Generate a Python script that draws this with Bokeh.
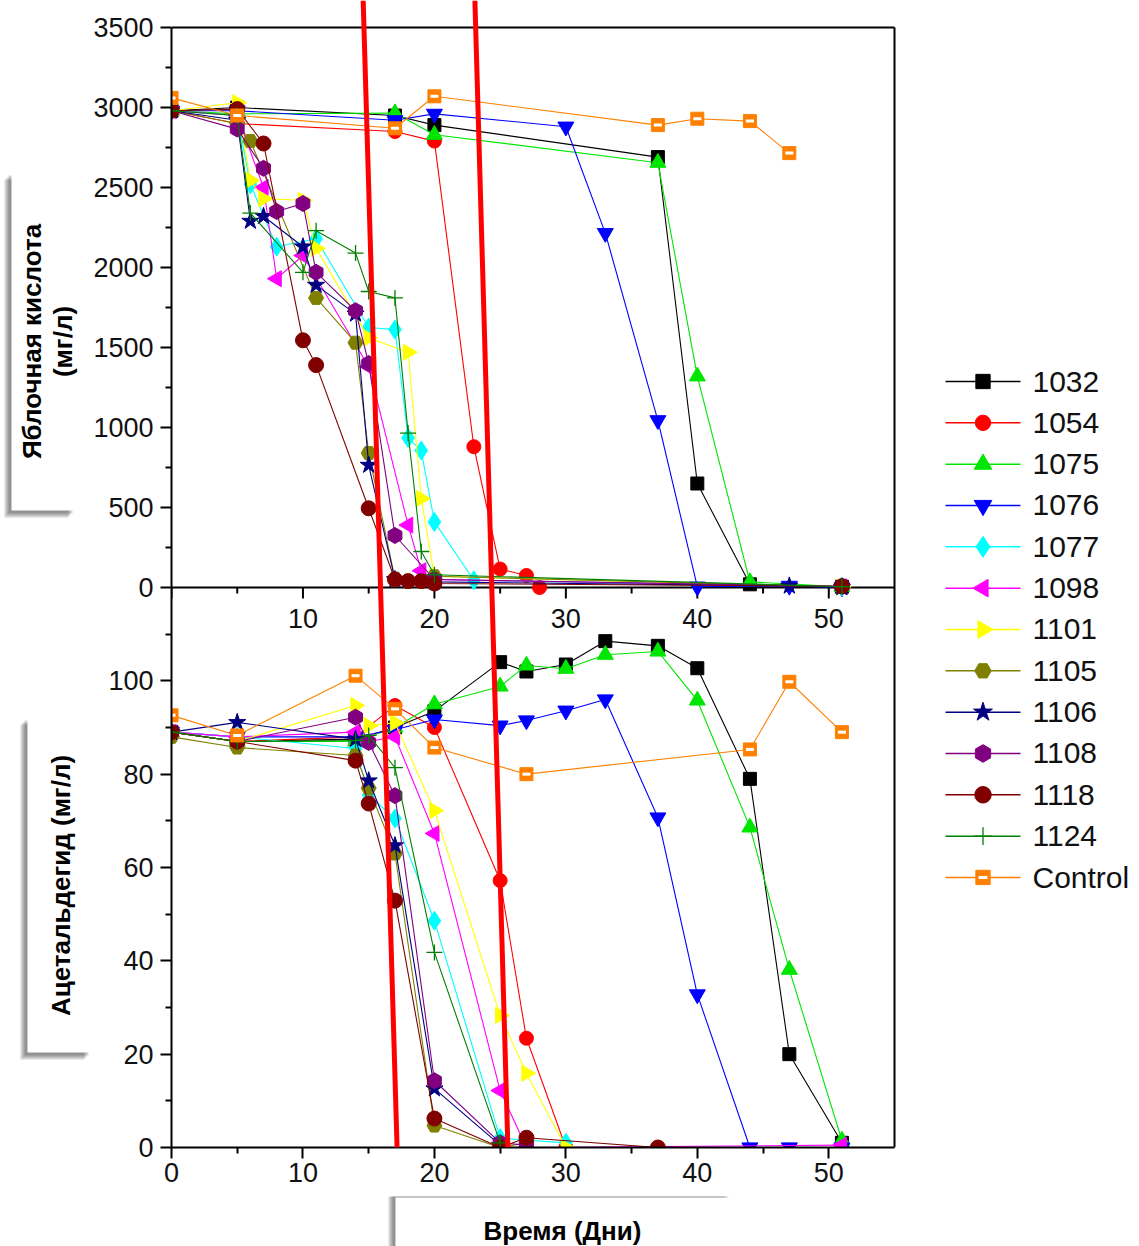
import math
from bokeh.plotting import figure
from bokeh.models import (Range1d, FixedTicker, CustomJSTickFormatter, Arrow)
from bokeh.layouts import row, column
from bokeh.core.properties import value
from bokeh.embed import file_html
from bokeh.resources import INLINE

# ---------------- data ----------------
strains = ["1032", "1054", "1075", "1076", "1077", "1098", "1101",
           "1105", "1106", "1108", "1118", "1124", "Control"]

# Malic acid, mg/L (top panel)
mal_days_1032 = [0, 5, 17, 20, 37, 40, 44, 51]
mal_vals_1032 = [2980, 3000, 2950, 2890, 2690, 650, 20, 5]
mal_days_1054 = [0, 5, 17, 20, 23, 25, 27, 28]
mal_vals_1054 = [2980, 2900, 2850, 2790, 880, 115, 75, 0]
mal_days_1075 = [0, 5, 17, 20, 37, 40, 44, 51]
mal_vals_1075 = [2980, 2960, 2965, 2830, 2655, 1320, 35, 5]
mal_days_1076 = [0, 5, 17, 20, 30, 33, 37, 40, 47, 51]
mal_vals_1076 = [2980, 2980, 2920, 2960, 2880, 2215, 1045, 5, 10, 0]
mal_days_1077 = [0, 5, 6, 8, 11, 15, 17, 18, 19, 20, 23, 51]
mal_vals_1077 = [2980, 2950, 2520, 2130, 2180, 1625, 1612, 935, 856, 410, 45, 5]
mal_days_1098 = [0, 5, 7, 8, 10, 15, 18, 19, 20, 51]
mal_vals_1098 = [2980, 2950, 2500, 1930, 2075, 1380, 390, 105, 50, 5]
mal_days_1101 = [0, 5, 6, 7, 10, 11, 15, 18, 19, 20, 51]
mal_vals_1101 = [2980, 3030, 2545, 2430, 2420, 2120, 1560, 1470, 556, 70, 5]
mal_days_1105 = [0, 5, 6, 11, 14, 15, 17, 20, 51]
mal_vals_1105 = [2980, 2900, 2790, 1810, 1530, 840, 55, 70, 5]
mal_days_1106 = [0, 5, 6, 7, 10, 11, 14, 15, 17, 20, 47, 51]
mal_vals_1106 = [2980, 2920, 2290, 2320, 2130, 1890, 1710, 765, 50, 35, 10, 0]
mal_days_1108 = [0, 5, 7, 8, 10, 11, 14, 15, 17, 20, 51]
mal_vals_1108 = [2980, 2865, 2620, 2350, 2400, 1970, 1730, 1400, 325, 50, 8]
mal_days_1118 = [0, 5, 7, 10, 11, 15, 17, 18, 19, 20, 51]
mal_vals_1118 = [2980, 2990, 2775, 1545, 1390, 495, 50, 40, 40, 25, 8]
mal_days_1124 = [0, 5, 6, 10, 11, 14, 15, 17, 18, 19, 20, 51]
mal_vals_1124 = [2980, 2950, 2340, 1970, 2230, 2090, 1850, 1810, 965, 225, 80, 5]
mal_days_ctrl = [0, 5, 17, 20, 37, 40, 44, 47]
mal_vals_ctrl = [3060, 2950, 2870, 3070, 2890, 2930, 2915, 2715]

# Acetaldehyde, mg/L (bottom panel)
ace_days_1032 = [0, 5, 14, 17, 20, 25, 27, 30, 33, 37, 40, 44, 47, 51]
ace_vals_1032 = [89, 87, 87.5, 90, 93.5, 104, 102, 103.5, 108.5, 107.5, 102.7, 79, 20, 1]
ace_days_1054 = [0, 5, 14, 17, 20, 25, 27, 30]
ace_vals_1054 = [89, 87, 88, 94.7, 90, 57.2, 23.4, 0]
ace_days_1075 = [0, 5, 14, 17, 20, 25, 27, 30, 33, 37, 40, 44, 47, 51]
ace_vals_1075 = [89, 87, 87, 90, 95, 98.8, 103.3, 102.6, 105.6, 106.3, 95.8, 68.6, 38.1, 1.5]
ace_days_1076 = [0, 5, 14, 17, 20, 25, 27, 30, 33, 37, 40, 44, 47, 51]
ace_vals_1076 = [89, 88, 88, 89.5, 91.7, 90.4, 91.5, 93.6, 96, 70.7, 32.8, 0, 0, 0]
ace_days_1077 = [0, 5, 14, 15, 17, 20, 25, 30]
ace_vals_1077 = [89, 88, 85.5, 75.5, 70.5, 48.6, 2, 1]
ace_days_1098 = [0, 5, 14, 15, 17, 20, 25, 27, 51]
ace_vals_1098 = [89, 88, 89, 87, 88, 67.3, 12.2, 0, 0.5]
ace_days_1101 = [0, 5, 14, 15, 17, 20, 25, 27, 30]
ace_vals_1101 = [89, 87, 94.7, 90.4, 91, 72.2, 28.3, 15.9, 0]
ace_days_1105 = [0, 5, 14, 15, 17, 20, 25, 27]
ace_vals_1105 = [88, 85.7, 84, 77, 63, 4.7, 0, 1]
ace_days_1106 = [0, 5, 14, 15, 17, 20, 25]
ace_vals_1106 = [89, 91.1, 87.5, 78.6, 64.7, 12.6, 0.5]
ace_days_1108 = [0, 5, 14, 15, 17, 20, 25, 27]
ace_vals_1108 = [89, 87, 92.2, 86.8, 75.4, 14.3, 1, 0.5]
ace_days_1118 = [0, 5, 14, 15, 17, 20, 25, 27, 37]
ace_vals_1118 = [89, 87, 82.9, 73.7, 52.9, 6.2, 0, 2.1, 0]
ace_days_1124 = [0, 5, 14, 15, 17, 20, 25]
ace_vals_1124 = [89, 87, 87.2, 88.3, 81.4, 41.8, 1]
ace_days_ctrl = [0, 5, 14, 17, 20, 27, 44, 47, 51]
ace_vals_ctrl = [92.6, 88.3, 101.1, 94, 85.7, 80, 85.3, 99.8, 89]

# axis ticks
x_ticks = [0, 10, 20, 30, 40, 50]
x_minor = [5, 15, 25, 35, 45]
mal_ticks = [0, 500, 1000, 1500, 2000, 2500, 3000, 3500]
mal_minor = [250, 750, 1250, 1750, 2250, 2750, 3250]
ace_ticks = [0, 20, 40, 60, 80, 100]
ace_minor = [10, 30, 50, 70, 90, 110]

malic = {
    "1032": (mal_days_1032, mal_vals_1032), "1054": (mal_days_1054, mal_vals_1054),
    "1075": (mal_days_1075, mal_vals_1075), "1076": (mal_days_1076, mal_vals_1076),
    "1077": (mal_days_1077, mal_vals_1077), "1098": (mal_days_1098, mal_vals_1098),
    "1101": (mal_days_1101, mal_vals_1101), "1105": (mal_days_1105, mal_vals_1105),
    "1106": (mal_days_1106, mal_vals_1106), "1108": (mal_days_1108, mal_vals_1108),
    "1118": (mal_days_1118, mal_vals_1118), "1124": (mal_days_1124, mal_vals_1124),
    "Control": (mal_days_ctrl, mal_vals_ctrl),
}
acet = {
    "1032": (ace_days_1032, ace_vals_1032), "1054": (ace_days_1054, ace_vals_1054),
    "1075": (ace_days_1075, ace_vals_1075), "1076": (ace_days_1076, ace_vals_1076),
    "1077": (ace_days_1077, ace_vals_1077), "1098": (ace_days_1098, ace_vals_1098),
    "1101": (ace_days_1101, ace_vals_1101), "1105": (ace_days_1105, ace_vals_1105),
    "1106": (ace_days_1106, ace_vals_1106), "1108": (ace_days_1108, ace_vals_1108),
    "1118": (ace_days_1118, ace_vals_1118), "1124": (ace_days_1124, ace_vals_1124),
    "Control": (ace_days_ctrl, ace_vals_ctrl),
}

# ---------------- styles ----------------
styles = {
    "1032": dict(color="#000000", marker="square", size=13, angle=0),
    "1054": dict(color="#FF0000", marker="circle", size=14, angle=0),
    "1075": dict(color="#00E600", marker="triangle", size=16, angle=0),
    "1076": dict(color="#0000FF", marker="inverted_triangle", size=16, angle=0),
    "1077": dict(color="#00FFFF", marker="diamond", size=19, angle=0),
    "1098": dict(color="#FF00FF", marker="triangle", size=16, angle=math.pi / 2),
    "1101": dict(color="#FFFF00", marker="triangle", size=16, angle=-math.pi / 2),
    "1105": dict(color="#808000", marker="hex", size=15, angle=0),
    "1106": dict(color="#000080", marker="star", size=18, angle=0),
    "1108": dict(color="#800080", marker="hex", size=16, angle=math.pi / 2),
    "1118": dict(color="#800000", marker="circle", size=15, angle=0),
    "1124": dict(color="#008000", marker="cross", size=16, angle=0),
    "Control": dict(color="#FF8000", marker="square", size=13, angle=0),
}

FONT = "Liberation Sans"
W, H = 1139, 1246
LEFT_W = 90          # strip with the y-label boxes
MAIN_H = 1196        # height of the row holding the chart
FRAME_L = 170        # absolute x of day 0
FRAME_R = 900        # right edge of the chart frame (a little past day 55)
FRAME_B = 1147       # absolute y of the bottom axis
PANEL_PX = 560       # height of each panel
DAY_PX = 724 / 55.0  # pixels per day

ACET_MAX = 120.0
MAL_MAX = 3500.0
x_end = (FRAME_R - FRAME_L) / DAY_PX
ace_end = FRAME_B * ACET_MAX / PANEL_PX
mal_end = (FRAME_B - PANEL_PX) * MAL_MAX / PANEL_PX

p = figure(width=FRAME_R - LEFT_W, height=MAIN_H, x_range=Range1d(0, x_end),
           y_range=Range1d(0, ace_end),
           output_backend="svg", toolbar_location=None,
           min_border_left=FRAME_L - LEFT_W, min_border_right=0,
           min_border_top=0, min_border_bottom=MAIN_H - FRAME_B)
p.extra_y_ranges = {"top": Range1d(-MAL_MAX, mal_end)}
p.xgrid.visible = False
p.ygrid.visible = False
p.outline_line_color = None
p.background_fill_color = "white"
p.border_fill_color = "white"

xa = p.xaxis[0]
xa.ticker = FixedTicker(ticks=x_ticks, minor_ticks=x_minor)
xa.bounds = (0, 55)
top_pos = [ACET_MAX + v * ACET_MAX / MAL_MAX for v in mal_ticks]
top_minor_pos = [ACET_MAX + v * ACET_MAX / MAL_MAX for v in mal_minor]
ya = p.yaxis[0]
ya.ticker = FixedTicker(ticks=ace_ticks + top_pos, minor_ticks=ace_minor + top_minor_pos)
ya.bounds = (0, 2 * ACET_MAX)
ya.formatter = CustomJSTickFormatter(
    args=dict(amax=ACET_MAX, mmax=MAL_MAX),
    code="""
    if (tick > amax - 0.5) { return String(Math.round((tick - amax) * mmax / amax)); }
    return String(Math.round(tick));
    """)
for ax in (xa, ya):
    ax.axis_line_width = 2
    ax.axis_line_color = "black"
    ax.major_tick_out = 11
    ax.major_tick_in = 0
    ax.minor_tick_out = 6
    ax.minor_tick_in = 0
    ax.major_tick_line_width = 2
    ax.minor_tick_line_width = 2
    ax.major_label_text_font = FONT
    ax.major_label_text_font_size = "27px"
    ax.major_label_text_color = "#111111"
xa.major_label_standoff = 4
ya.major_label_standoff = 7

# frame lines: top border, right border, middle axis of the top panel
p.segment(x0=[0, 55, 0], y0=[2 * ACET_MAX, 0, ACET_MAX],
          x1=[55, 55, 55], y1=[2 * ACET_MAX, 2 * ACET_MAX, ACET_MAX],
          line_color="black", line_width=2)
p.ray(x=x_ticks, y=[ACET_MAX] * len(x_ticks), length=11, length_units="screen",
      angle=-math.pi / 2, line_color="black", line_width=2)
p.ray(x=x_minor, y=[ACET_MAX] * len(x_minor), length=6, length_units="screen",
      angle=-math.pi / 2, line_color="black", line_width=2)
p.text(x=x_ticks[1:], y=[ACET_MAX] * (len(x_ticks) - 1), text=[str(t) for t in x_ticks[1:]],
       text_align="center", text_baseline="middle", y_offset=31,
       text_font=value(FONT), text_font_size="27px", text_color="#111111")


def draw(f, days, vals, st, rng=None, scale=1.0, lw=1.1):
    kw = {} if rng is None else {"y_range_name": rng}
    if days is not None:
        f.line(days, vals, line_color=st["color"], line_width=lw, **kw)
    mx, my = (days, vals) if days is not None else (mk_x, mk_y)
    size = st["size"] * scale
    if st["marker"] == "cross":
        f.scatter(mx, my, marker="cross", size=size, line_color=st["color"], line_width=1.3, **kw)
    else:
        f.scatter(mx, my, marker=st["marker"], size=size, angle=st["angle"],
                  fill_color=st["color"], line_color=st["color"], **kw)
    if st is styles["Control"]:
        f.scatter(mx, my, marker="dash", size=size * 0.62, line_color="white", line_width=3, **kw)


for s in strains:
    d, v = acet[s]
    draw(p, d, v, styles[s])
    d, v = malic[s]
    draw(p, d, v, styles[s], "top")

# red annotation lines (hand-drawn marks of the original figure)
for xs, xe in [(14.58, 17.16), (23.08, 25.59)]:
    p.add_layout(Arrow(end=None, x_start=xs, y_start=ace_end, x_end=xe, y_end=0,
                       line_color="#FF0000", line_width=5))


# ---------------- side strips: label boxes and legend ----------------
def plain_fig(x0, x1, y_top, y_bot, bottom_border=0):
    f = figure(width=x1 - x0, height=y_bot - y_top + bottom_border,
               x_range=Range1d(x0, x1), y_range=Range1d(y_bot, y_top),
               output_backend="svg", toolbar_location=None, x_axis_location=None,
               y_axis_location=None, min_border=0, min_border_bottom=bottom_border)
    f.grid.visible = False
    f.outline_line_color = None
    f.background_fill_color = "white"
    f.border_fill_color = "white"
    return f


def shadow_box(f, l, r, t, b, dx, dy):
    for k in (7, 5, 3):
        f.quad(left=[l + dx * k / 5], right=[r + dx * k / 5], top=[t + dy * k / 5],
               bottom=[b + dy * k / 5], fill_color="black", fill_alpha=0.17, line_color=None)
    f.quad(left=[l], right=[r], top=[t], bottom=[b], fill_color="white", line_color=None)


left = plain_fig(0, LEFT_W, 0, FRAME_B, MAIN_H - FRAME_B)
shadow_box(left, 11, 75, 172, 510, -5, 5)
shadow_box(left, 27, 91, 717, 1052, -5, 5)
left.text(x=[31, 62], y=[341, 341], text=["Яблочная кислота", "(мг/л)"], angle=math.pi / 2,
          text_align="center", text_baseline="middle", text_font=value(FONT),
          text_font_style="bold", text_font_size="26px", text_color="black")
left.text(x=[60], y=[885], text=["Ацетальдегид (мг/л)"], angle=math.pi / 2,
          text_align="center", text_baseline="middle", text_font=value(FONT),
          text_font_style="bold", text_font_size="26px", text_color="black")

# legend strip (drawn with the same glyph styles as the chart)
leg = plain_fig(FRAME_R, W, 0, FRAME_B, MAIN_H - FRAME_B)
LEG_Y0, LEG_DY = 381, 41.33
LEG_X0, LEG_X1, LEG_TX = 945, 1020, 1032
for i, s in enumerate(strains):
    yy = LEG_Y0 + i * LEG_DY
    mk_x, mk_y = [(LEG_X0 + LEG_X1) / 2], [yy]
    leg.line([LEG_X0, LEG_X1], [yy, yy], line_color=styles[s]["color"], line_width=1.5)
    draw(leg, None, None, styles[s], scale=1.1)
    leg.text(x=[LEG_TX], y=[yy], text=[s], text_align="left", text_baseline="middle",
             text_font=value(FONT), text_font_size="30px", text_color="#111111")

bottom = plain_fig(0, W, MAIN_H, H)
shadow_box(bottom, 395, 731, 1197, 1270, -5, -5)
bottom.text(x=[562], y=[1230], text=["Время (Дни)"], text_align="center",
            text_baseline="middle", text_font=value(FONT), text_font_style="bold",
            text_font_size="26px", text_color="black")

layout = column(row(left, p, leg, spacing=0), bottom, spacing=0)
open("out.html", "w").write(file_html(layout, INLINE))
